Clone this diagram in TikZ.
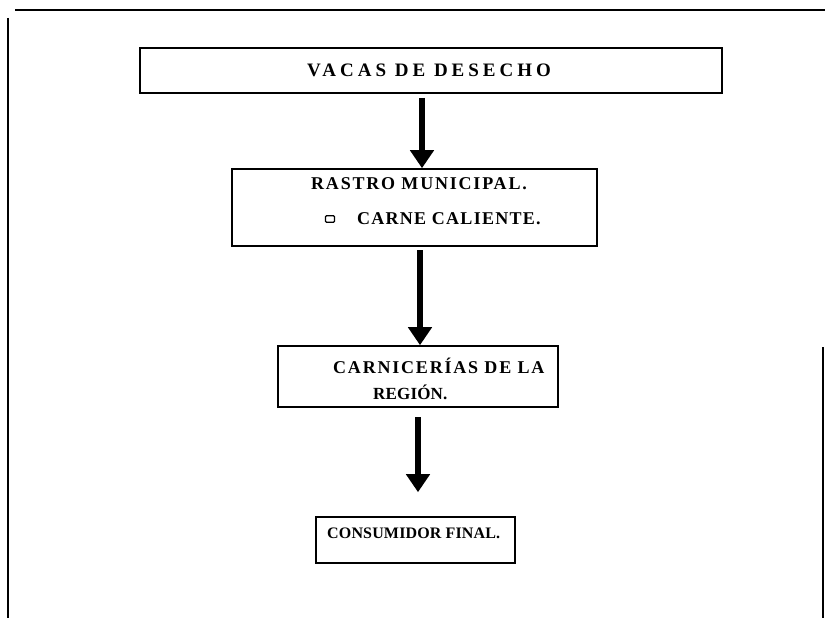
\documentclass[tikz,border=0pt]{standalone}
\usepackage{fontspec}
\setmainfont{Liberation Serif}
\usetikzlibrary{arrows.meta}
\newcommand{\lsfont}[2]{\addfontfeature{LetterSpace=#2}\fontsize{#1}{#1}\selectfont}
\tikzset{
  box/.style={draw=black, line width=1.6pt, fill=none, inner sep=0pt},
  lbl/.style={anchor=west, inner sep=0pt, font=\bfseries},
  flowarrow/.style={line width=5.5pt, -{Triangle[width=23pt,length=18pt]}},
  frameline/.style={line width=1.6pt}
}
\begin{document}
\begin{tikzpicture}[x=1pt,y=-1pt]
\useasboundingbox (0,0) rectangle (825,618);
% frame
\draw[frameline] (15,10) -- (825,10);
\draw[frameline] (8,18) -- (8,618);
\draw[frameline] (823,347) -- (823,618);
% boxes
\node[box, minimum width=582pt, minimum height=45pt] (b1) at (431,70.5) {};
\node[box, minimum width=365pt, minimum height=77pt] (b2) at (414.5,207.5) {};
\node[box, minimum width=280pt, minimum height=61pt] (b3) at (418,376.5) {};
\node[box, minimum width=199pt, minimum height=46pt] (b4) at (415.5,540) {};
% texts
\node[lbl] (t1) at (307,70) {\lsfont{19}{21}VACAS DE DESECHO};
\node[lbl] (t2) at (311,184) {\lsfont{18}{10}RASTRO MUNICIPAL.};
\node[draw, line width=1.4pt, rounded corners=1pt, minimum width=9pt, minimum height=6.5pt, inner sep=0pt] (bul) at (330,219) {};
\node[lbl] (t3) at (357,219) {\lsfont{18}{7}CARNE CALIENTE.};
\node[lbl] (t4) at (333,366) {\lsfont{18}{10}CARNICERÍAS DE LA};
\node[lbl] (t5) at (373,392) {\lsfont{17}{1}REGIÓN.};
\node[lbl] (t6) at (327,533) {\lsfont{16}{1}CONSUMIDOR FINAL.};
% arrows
\coordinate (a1) at (422,98);
\coordinate (a2) at (420,250);
\coordinate (a3) at (418,417);
\draw[flowarrow] (a1) -- (a1 |- b2.north);
\draw[flowarrow] (a2) -- (a2 |- b3.north);
\draw[flowarrow] (a3) -- ([yshift=24pt]a3 |- b4.north);
\end{tikzpicture}
\end{document}
